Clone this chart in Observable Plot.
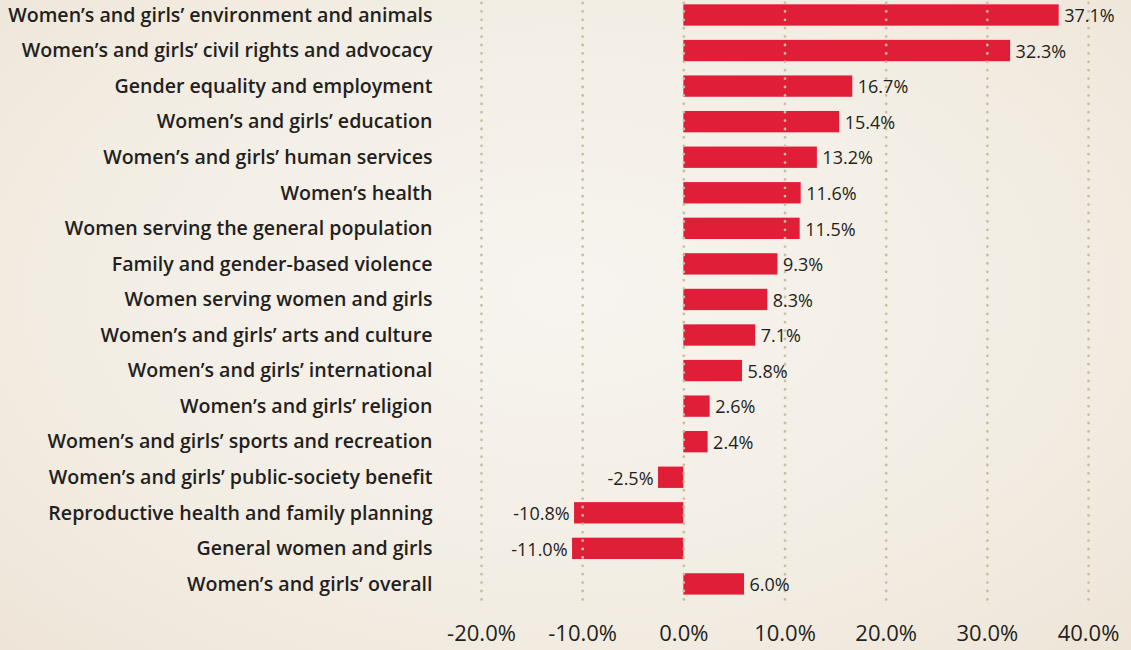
<!DOCTYPE html>
<html>
<head>
<meta charset="utf-8">
<script src="https://cdn.jsdelivr.net/npm/d3@7"></script>
<script src="https://cdn.jsdelivr.net/npm/@observablehq/plot@0.6"></script>
<style>
  html, body { margin: 0; padding: 0; }
  body {
    width: 1131px; height: 650px; overflow: hidden;
    background: radial-gradient(ellipse at 50% 45%, #f7f4ef 0%, #f3eee5 55%, #eee5d8 100%);
    font-family: "Open Sans", sans-serif;
  }
  #chart svg { display: block; background: transparent; }
</style>
</head>
<body>
<div id="chart"></div>
<script>
const categories = [
  "Women\u2019s and girls\u2019 environment and animals",
  "Women\u2019s and girls\u2019 civil rights and advocacy",
  "Gender equality and employment",
  "Women\u2019s and girls\u2019 education",
  "Women\u2019s and girls\u2019 human services",
  "Women\u2019s health",
  "Women serving the general population",
  "Family and gender-based violence",
  "Women serving women and girls",
  "Women\u2019s and girls\u2019 arts and culture",
  "Women\u2019s and girls\u2019 international",
  "Women\u2019s and girls\u2019 religion",
  "Women\u2019s and girls\u2019 sports and recreation",
  "Women\u2019s and girls\u2019 public-society benefit",
  "Reproductive health and family planning",
  "General women and girls",
  "Women\u2019s and girls\u2019 overall"
];
const values = [37.1, 32.3, 16.7, 15.4, 13.2, 11.6, 11.5, 9.3, 8.3, 7.1, 5.8, 2.6, 2.4, -2.5, -10.8, -11.0, 6.0];
const xTicks = [-20, -10, 0, 10, 20, 30, 40];

const data = categories.map((c, i) => ({category: c, value: values[i]}));
const fmt = d => d.toFixed(1) + "%";
const FONT = "'Open Sans', sans-serif";

const chart = Plot.plot({
  width: 1131,
  height: 650,
  marginLeft: 481,
  marginRight: 43,
  marginTop: 3,
  marginBottom: 45,
  style: {fontFamily: FONT, background: "transparent", color: "#231f20"},
  x: {domain: [-20, 40], ticks: xTicks, tickFormat: fmt},
  y: {domain: categories, range: [-2.8, 601.7], paddingInner: 0.4, paddingOuter: 0.2, round: false},
  marks: [
    Plot.barX(data, {x: "value", y: "category", fill: "#e01e37"}),
    Plot.ruleX(xTicks, {stroke: "#cbbd9e", strokeWidth: 2.8, strokeDasharray: "0 8.4", strokeLinecap: "round"}),
    Plot.text(data.filter(d => d.value >= 0), {
      x: "value", y: "category", text: d => fmt(d.value),
      textAnchor: "start", dx: 5, dy: 1,
      fontSize: 18, fontWeight: 500, fill: "#231f20"
    }),
    Plot.text(data.filter(d => d.value < 0), {
      x: "value", y: "category", text: d => fmt(d.value),
      textAnchor: "end", dx: -5, dy: 1,
      fontSize: 18, fontWeight: 500, fill: "#231f20"
    }),
    Plot.axisY({tickSize: 0, tickPadding: 49, fontSize: 19.6, fontWeight: 600, label: null}),
    Plot.axisX({ticks: xTicks, tickSize: 0, tickPadding: 20, fontSize: 22, fontWeight: 500, label: null, tickFormat: fmt})
  ]
});
document.getElementById("chart").appendChild(chart);
</script>
</body>
</html>
